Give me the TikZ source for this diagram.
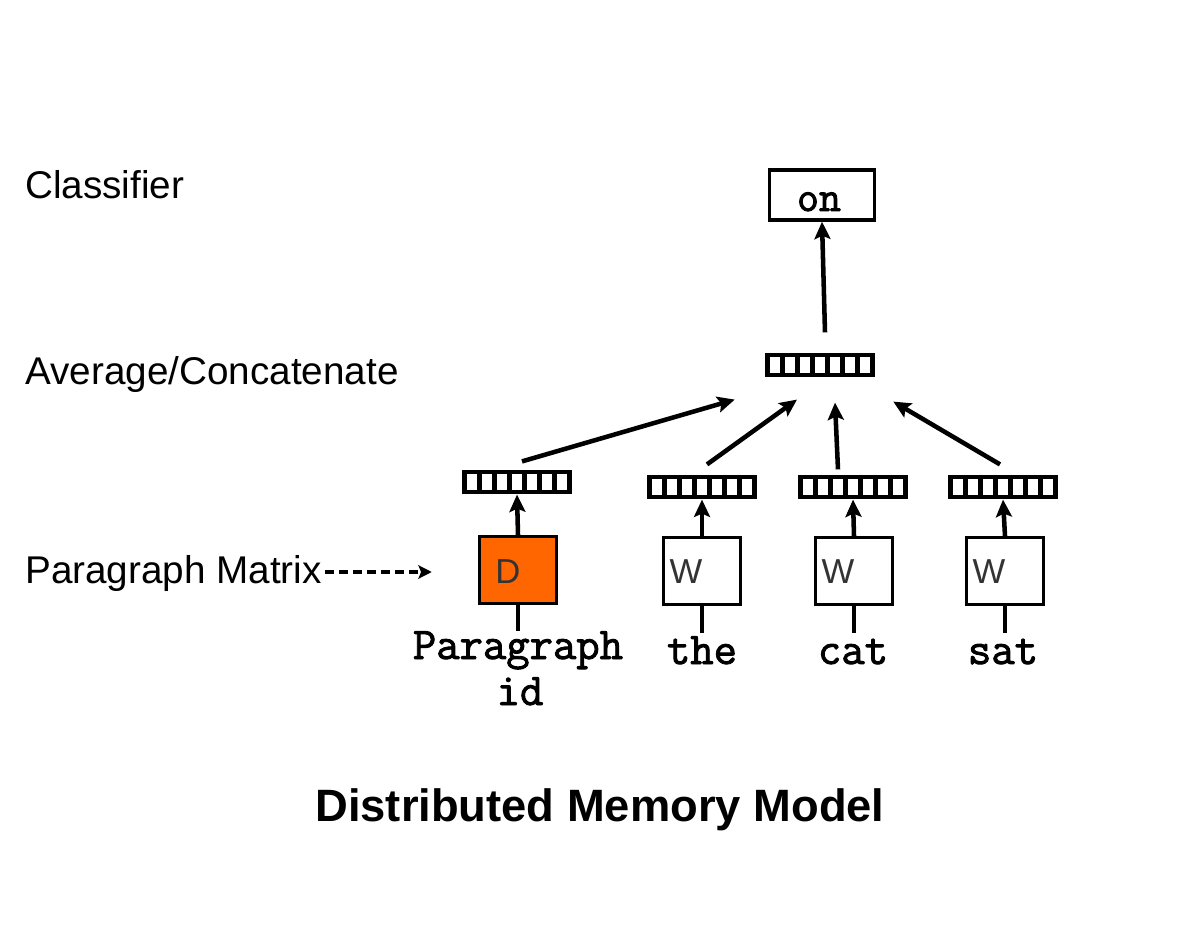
\documentclass[tikz,border=0pt]{standalone}
\usepackage{fontspec}
\setmainfont{Liberation Sans}
\newfontfamily\courfont[FakeBold=2]{Latin Modern Mono}
\usetikzlibrary{arrows.meta,calc}
\definecolor{dorange}{HTML}{FF6600}
\definecolor{txtgrey}{HTML}{333333}
\begin{document}
\begin{tikzpicture}[x=0.75pt,y=-0.75pt,
  vec/.style={draw=none, fill=black, minimum width=82.5pt, minimum height=18.5pt, inner sep=0pt,
    path picture={\foreach \i in {0,...,6}{\fill[white] ($(path picture bounding box.south west)+(4pt+\i*11.2pt,3.5pt)$) rectangle ++(7.2pt,11.5pt);}}},
  wbox/.style={draw, line width=2.6pt, minimum width=57.75pt, minimum height=50pt, inner sep=0pt},
  arr/.style={line width=3.4pt, -{Stealth[length=13pt,width=12pt,inset=2.5pt]}},
  stem/.style={line width=3.4pt},
  lab/.style={font=\fontsize{29}{34}\selectfont, inner sep=0pt, anchor=base west},
  word/.style={font=\courfont\fontsize{34}{33}\selectfont, inner sep=0pt, anchor=base},
  boxtxt/.style={font=\fontsize{26}{30}\selectfont, text=txtgrey, inner sep=0pt}
]
\useasboundingbox (0,0) rectangle (1200,934);

% left labels
\node[lab] (cls) at (25,199) {Classifier};
\node[lab] (avgl) at (25,384) {Average/Concatenate};
\node[lab] (pml) at (25,583) {Paragraph Matrix};

% classifier output
\node[draw, line width=2.6pt, minimum width=78.75pt, minimum height=37.5pt, inner sep=0pt] (on) at (822,195) {};
\node[font=\courfont\fontsize{32}{30}\selectfont, inner sep=0pt, anchor=base] (ont) at (819,211) {on};

% average vector
\node[vec] (avg) at (820,365) {};

% word vectors
\node[vec] (pvec) at (517,482) {};
\node[vec] (tvec) at (702,487) {};
\node[vec] (cvec) at (853,487) {};
\node[vec] (svec) at (1003,487) {};

% matrices
\node[wbox, fill=dorange] (D) at (518,570) {};
\node[boxtxt] (Dt) at (508,572) {D};
\node[wbox] (W1) at (702,571) {};
\node[boxtxt] (W1t) at (686,572) {W};
\node[wbox] (W2) at (854,571) {};
\node[boxtxt] (W2t) at (838,572) {W};
\node[wbox] (W3) at (1005,571) {};
\node[boxtxt] (W3t) at (989,572) {W};

% input words
\node[word] (pw) at (518,659) {Paragraph};
\node[word] (idw) at (520,705) {id};
\node[word] (thew) at (702,664) {the};
\node[word] (catw) at (853,664) {cat};
\node[word] (satw) at (1003,664) {sat};

% stems below matrices
\draw[stem] (D.south) -- ($(D.south)+(0,26)$);
\draw[stem] (W1.south) -- ($(W1.south)+(0,27)$);
\draw[stem] (W2.south) -- ($(W2.south)+(0,27)$);
\draw[stem] (W3.south) -- ($(W3.south)+(0,27)$);

% matrix -> vector arrows
\draw[arr] (D.north) -- (pvec.south);
\draw[arr] (W1.north) -- (tvec.south);
\draw[arr] (W2.north) -- (cvec.south);
\draw[arr] (W3.north) -- (svec.south);

% vectors -> average
\draw[arr] ($(pvec.north)+(5,-8)$) -- ($(avg.south west)+(-30,22)$);
\draw[arr] ($(tvec.north)+(5,-10)$) -- ($(avg.south)+(-23,22)$);
\draw[arr] ($(cvec.north)+(-15,-5)$) -- ($(avg.south)+(15,25)$);
\draw[arr] ($(svec.north)+(-3,-10)$) -- ($(avg.south east)+(18,24)$);

% average -> classifier
\draw[arr] ($(avg.north)+(5,-20)$) -- (on.south);

% paragraph matrix pointer
\draw[line width=2.4pt, dash pattern=on 7pt off 3.5pt, -{Stealth[length=10pt,width=10pt,inset=2pt]}]
  ($(pml.base east)+(3,-11)$) -- ($(D.west)+(-46,2)$);

% title
\node[font=\bfseries\fontsize{34}{40}\selectfont, inner sep=0pt, anchor=base] (title) at (600,821) {Distributed Memory Model};
\end{tikzpicture}
\end{document}
